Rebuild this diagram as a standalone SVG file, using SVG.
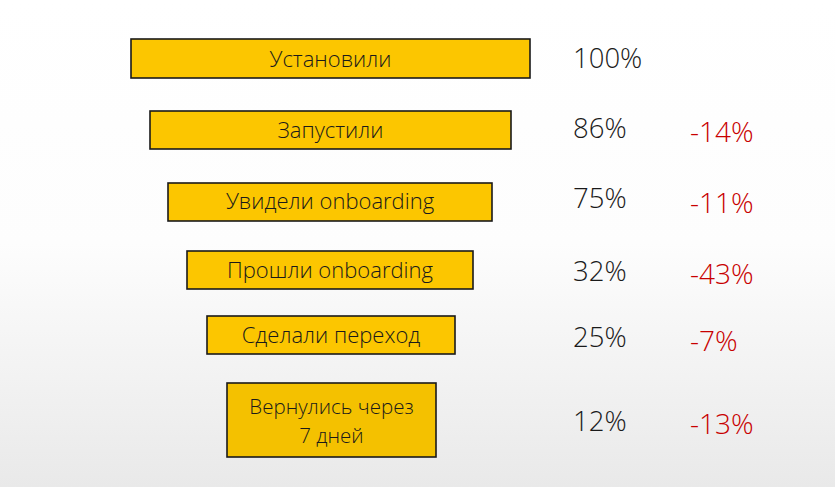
<svg xmlns="http://www.w3.org/2000/svg" width="835" height="487" viewBox="0 0 835 487">
<defs>
<linearGradient id="bg" x1="0" y1="0" x2="0" y2="1">
<stop offset="0" stop-color="#ffffff"/>
<stop offset="0.5" stop-color="#fdfdfd"/>
<stop offset="1" stop-color="#e9e9e9"/>
</linearGradient>
<style>
.box{fill:#FCC600;stroke:#1a1a1a;stroke-width:1.6}
.lbl{font-family:"Open Sans","Noto Sans",sans-serif;font-weight:300;font-size:22px;fill:#1a1a1a;text-anchor:middle}
.sm{font-size:20.5px}
.pct{font-family:"Open Sans","Noto Sans",sans-serif;font-weight:300;font-size:27.5px;fill:#1a1a1a}
.neg{font-family:"Open Sans","Noto Sans",sans-serif;font-weight:300;font-size:28px;fill:#C80000}
</style>
</defs>
<rect x="0" y="0" width="835" height="487" fill="url(#bg)"/>
<g id="n1"><rect class="box" x="131" y="39" width="399" height="39"/><text class="lbl" x="330.5" y="67">Установили</text></g>
<g id="n2"><rect class="box" x="150" y="111" width="361" height="38"/><text class="lbl" x="330.5" y="138">Запустили</text></g>
<g id="n3"><rect class="box" x="168" y="183" width="324" height="38"/><text class="lbl" x="330" y="209">Увидели onboarding</text></g>
<g id="n4"><rect class="box" x="187" y="251" width="286" height="38"/><text class="lbl" x="330" y="278">Прошли onboarding</text></g>
<g id="n5"><rect class="box" x="207" y="316" width="248" height="38"/><text class="lbl" x="331" y="343">Сделали переход</text></g>
<g id="n6"><rect class="box" x="227" y="383" width="209" height="74" style="fill:#F4C100"/><text class="lbl sm" x="331.5" y="414">Вернулись через</text><text class="lbl sm" x="331.5" y="443">7 дней</text></g>
<g id="values">
<text class="pct" x="573" y="68">100%</text>
<text class="pct" x="573" y="138">86%</text>
<text class="pct" x="573" y="208">75%</text>
<text class="pct" x="573" y="281">32%</text>
<text class="pct" x="573" y="347">25%</text>
<text class="pct" x="573" y="431">12%</text>
<text class="neg" x="690" y="142">-14%</text>
<text class="neg" x="690" y="213">-11%</text>
<text class="neg" x="690" y="284">-43%</text>
<text class="neg" x="690" y="351">-7%</text>
<text class="neg" x="690" y="434">-13%</text>
</g>
</svg>
